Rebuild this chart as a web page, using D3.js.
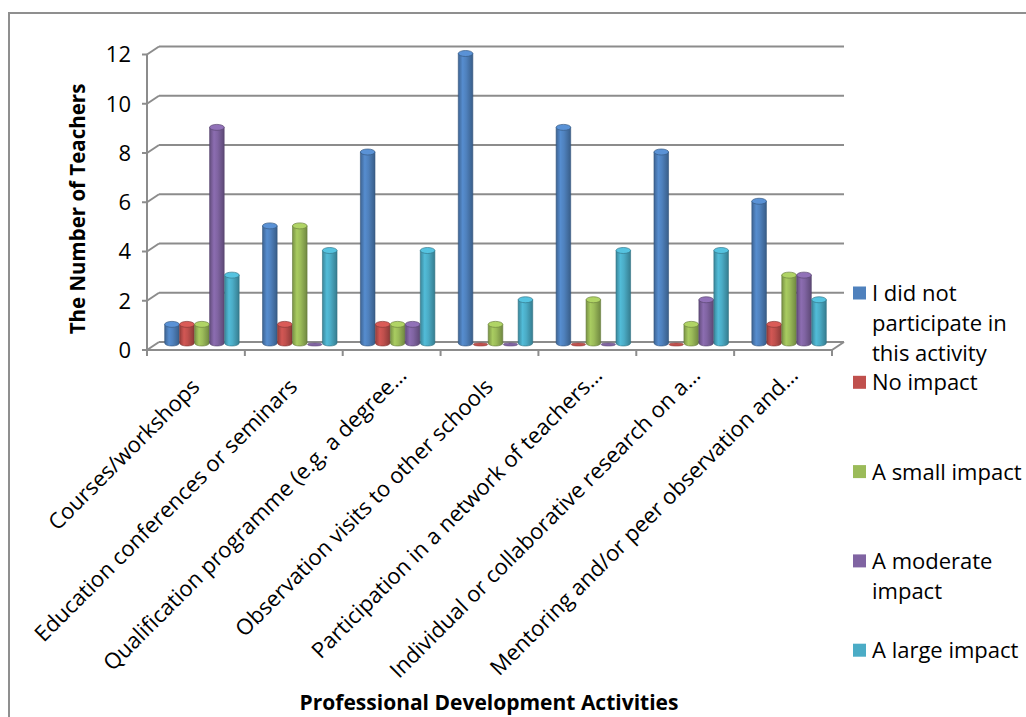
<!DOCTYPE html>
<html>
<head>
<meta charset="utf-8">
<script src="https://cdn.jsdelivr.net/npm/d3@7"></script>
<style>
  html, body { margin: 0; padding: 0; background: #fff; }
  svg { display: block; font-family: "Open Sans", sans-serif; }
</style>
</head>
<body>
<svg id="chart" width="1026" height="717"></svg>
<script>
// Professional development activities and reported impact
const categories = [
  "Courses/workshops",
  "Education conferences or seminars",
  "Qualification programme (e.g. a degree…",
  "Observation visits to other schools",
  "Participation in a network of teachers…",
  "Individual or collaborative research on a…",
  "Mentoring and/or peer observation and…"
];
const seriesNames = [
  "I did not participate in this activity",
  "No impact",
  "A small impact",
  "A moderate impact",
  "A large impact"
];
const legendLines = [
  ["I did not", "participate in", "this activity"],
  ["No impact"],
  ["A small impact"],
  ["A moderate", "impact"],
  ["A large impact"]
];
const notParticipated = [1, 5, 8, 12, 9, 8, 6];
const noImpact        = [1, 1, 1, 0, 0, 0, 1];
const smallImpact     = [1, 5, 1, 1, 2, 1, 3];
const moderateImpact  = [9, 0, 1, 0, 0, 2, 3];
const largeImpact     = [3, 4, 4, 2, 4, 4, 2];
const seriesValues = [notParticipated, noImpact, smallImpact, moderateImpact, largeImpact];
const seriesColors = ["#4f81bd", "#c0504d", "#9bbb59", "#8064a2", "#4bacc6"];
const yTicks = [0, 2, 4, 6, 8, 10, 12];
const yTitle = "The Number of Teachers";
const xTitle = "Professional Development Activities";

const svg = d3.select("#chart");

// outer chart frame
svg.append("rect")
  .attr("x", 9).attr("y", 13).attr("width", 1040).attr("height", 730)
  .attr("fill", "none").attr("stroke", "#8f8f8f").attr("stroke-width", 2);

// 3-D geometry: front plane and back wall offset
const depth = { dx: 12, dy: -8 };
const x = d3.scaleBand().domain(categories).range([147, 832])
  .paddingInner(0.235).paddingOuter(0.1175);
const xs = d3.scaleBand().domain(seriesNames).range([0, x.bandwidth()]);
const yBack = d3.scaleLinear().domain([0, 12]).range([342, 46.5]);
const yFront = v => yBack(v) - depth.dy;
const yMid = v => yBack(v) - depth.dy / 2;
const xLeft = x.range()[0], xRight = x.range()[1];

const grid = svg.append("g").attr("stroke", "#8c8c8c").attr("stroke-width", 2).attr("fill", "none");

// back wall gridlines and left-wall diagonals
yTicks.forEach(v => {
  grid.append("line")
    .attr("x1", xLeft + depth.dx).attr("x2", xRight + depth.dx)
    .attr("y1", yBack(v)).attr("y2", yBack(v));
  grid.append("line")
    .attr("x1", xLeft).attr("y1", yFront(v))
    .attr("x2", xLeft + depth.dx).attr("y2", yBack(v));
  grid.append("line")
    .attr("x1", xLeft - 5).attr("x2", xLeft)
    .attr("y1", yFront(v)).attr("y2", yFront(v));
});
// vertical value axis on the front plane
grid.append("line")
  .attr("x1", xLeft).attr("x2", xLeft)
  .attr("y1", yFront(12)).attr("y2", yFront(0));
// floor front edge and right diagonal
grid.append("line")
  .attr("x1", xLeft).attr("x2", xRight)
  .attr("y1", yFront(0)).attr("y2", yFront(0));
grid.append("line")
  .attr("x1", xRight).attr("y1", yFront(0))
  .attr("x2", xRight + depth.dx).attr("y2", yBack(0));
// category tick marks
const step = x.step();
d3.range(categories.length + 1).forEach(i => {
  const tx = xLeft + i * step;
  grid.append("line")
    .attr("x1", tx).attr("x2", tx)
    .attr("y1", yFront(0)).attr("y2", yFront(0) + 6);
});

// value axis labels
svg.append("g").selectAll("text").data(yTicks).join("text")
  .attr("x", 131).attr("y", d => yFront(d))
  .attr("dy", "0.36em")
  .attr("text-anchor", "end")
  .attr("font-size", 22).attr("fill", "#000")
  .text(d => d);

// cylinder shading gradients
const defs = svg.append("defs");
seriesColors.forEach((c, i) => {
  const base = d3.color(c);
  const g = defs.append("linearGradient").attr("id", "cyl" + i)
    .attr("x1", "0%").attr("x2", "100%").attr("y1", "0%").attr("y2", "0%");
  g.append("stop").attr("offset", "0%").attr("stop-color", base.darker(0.7));
  g.append("stop").attr("offset", "30%").attr("stop-color", base.brighter(0.25));
  g.append("stop").attr("offset", "55%").attr("stop-color", base);
  g.append("stop").attr("offset", "100%").attr("stop-color", base.darker(0.9));
});

// bars drawn as cylinders
const rows = [];
categories.forEach((cat, ci) => {
  seriesNames.forEach((s, si) => {
    rows.push({ cat, s, si, v: seriesValues[si][ci] });
  });
});

const bars = svg.append("g");
const ry = 3;
rows.forEach(d => {
  const w = xs.bandwidth() - 0.4;
  const bx = x(d.cat) + xs(d.s) + depth.dx / 2 + 0.2;
  const cx = bx + w / 2;
  const rx = w / 2;
  const base = yMid(0);
  const top = yMid(d.v);
  const col = d3.color(seriesColors[d.si]);
  const g = bars.append("g");
  if (d.v > 0) {
    const p = d3.path();
    p.moveTo(bx, top + ry);
    p.lineTo(bx, base - ry);
    p.bezierCurveTo(bx, base + ry / 3, bx + w, base + ry / 3, bx + w, base - ry);
    p.lineTo(bx + w, top + ry);
    p.closePath();
    g.append("path").attr("d", p.toString())
      .attr("fill", `url(#cyl${d.si})`)
      .attr("stroke", col.darker(1.2)).attr("stroke-width", 0.6);
    g.append("ellipse")
      .attr("cx", cx).attr("cy", top + ry).attr("rx", rx).attr("ry", ry)
      .attr("fill", col.brighter(0.35))
      .attr("stroke", col.darker(1.0)).attr("stroke-width", 0.7);
  } else {
    g.append("ellipse")
      .attr("cx", cx).attr("cy", base - 1.5).attr("rx", rx).attr("ry", 1.6)
      .attr("fill", col).attr("stroke", col.darker(1)).attr("stroke-width", 0.5);
  }
});

// category labels, rotated
svg.append("g").selectAll("text").data(categories).join("text")
  .attr("text-anchor", "end")
  .attr("font-size", 22).attr("fill", "#000")
  .attr("transform", d => {
    const cx = x(d) + x.bandwidth() / 2 + 5;
    return `translate(${cx},388) rotate(-45)`;
  })
  .attr("dx", d => d.endsWith("…") ? 16 : 0)
  .text(d => d);

// axis titles
svg.append("text")
  .attr("transform", "translate(85,209) rotate(-90)")
  .attr("text-anchor", "middle")
  .attr("font-size", 20.5).attr("font-weight", "bold")
  .text(yTitle);
svg.append("text")
  .attr("x", 489).attr("y", 710)
  .attr("text-anchor", "middle")
  .attr("font-size", 21).attr("font-weight", "bold")
  .text(xTitle);

// legend
const legend = svg.append("g");
legendLines.forEach((lines, i) => {
  const ly = 293 + i * 89.3;
  legend.append("rect")
    .attr("x", 853).attr("y", ly - 6.5).attr("width", 13).attr("height", 13)
    .attr("fill", seriesColors[i]);
  const t = legend.append("text")
    .attr("x", 872).attr("y", ly)
    .attr("font-size", 22).attr("fill", "#000");
  lines.forEach((ln, k) => {
    t.append("tspan").attr("x", 872).attr("dy", k === 0 ? "0.36em" : 30).text(ln);
  });
});
</script>
</body>
</html>
